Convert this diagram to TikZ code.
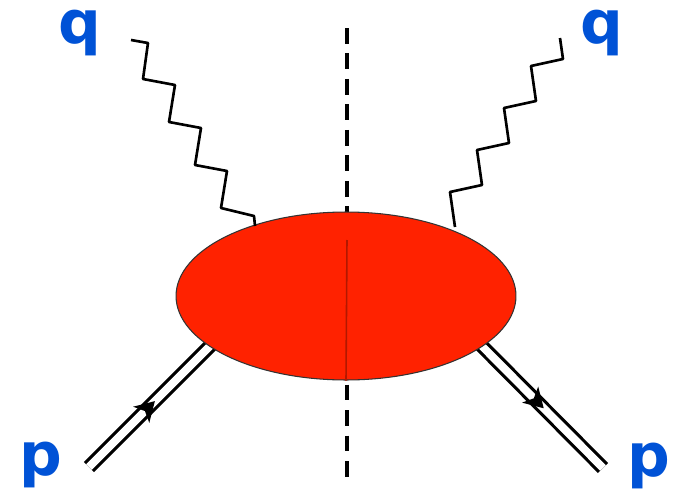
\documentclass[tikz,border=0pt]{standalone}
\usepackage{fontspec}
\setmainfont{DejaVu Sans}
\usepackage{tikz}
\usetikzlibrary{shapes.geometric,decorations.markings}
\definecolor{lblblue}{RGB}{0,82,214}
\definecolor{blobred}{RGB}{255,34,0}

\begin{document}
\begin{tikzpicture}[x=0.02cm,y=-0.02cm,
  blob/.style={ellipse,draw=black!80,line width=.6pt,fill=blobred,
    minimum width=6.8cm,minimum height=3.36cm,inner sep=0pt},
  lbl/.style={anchor=base,inner sep=0pt,text=lblblue,font=\fontsize{34}{36}\selectfont\bfseries},
  photon/.style={draw=black,line width=1.5pt,line join=round},
  proton/.style={draw=black,double=white,double distance=4.5pt,line width=1.8pt},
  midarrow/.style={decoration={markings,mark=at position #1 with
    {\fill[black] (6pt,0) -- (-5pt,6.5pt) -- (-2pt,0) -- (-5pt,-6.5pt) -- cycle;}},
    postaction={decorate}}]
  \useasboundingbox (0,0) rectangle (673,497);
  % cut line
  \coordinate (cuttop) at (347,28);
  \coordinate (cutbot) at (347,482);
  \draw[line width=2pt,dash pattern=on 9pt off 5.5pt] (cuttop) -- (cutbot);
  % proton legs
  \coordinate (pLend) at (89,467);
  \coordinate (pLin) at (225,331);
  \coordinate (pRin) at (467,331);
  \coordinate (pRend) at (603,468);
  \draw[proton] (pLend) -- (pLin);
  \draw[proton] (pRin) -- (pRend);
  \path[midarrow=.43] (pLend) -- (pLin);
  \path[midarrow=.51] (pRin) -- (pRend);
  % blob, with the cut showing through
  \node[blob] (blob) at (346,296) {};
  \coordinate (cutin) at (347,240);
  \draw[blobred!70!black,line width=.9pt] (cutin) -- (blob.south);
  % photon legs
  \coordinate (gL) at (131,40);
  \coordinate (gR) at (560,38);
  \draw[photon] (gL) -- ++(17,3) -- ++(-5,36)
    \foreach \i in {1,2,3} { -- ++(32,6) -- ++(-6,37) } -- ++(33,8) -- ++(1,10);
  \draw[photon] (gR) -- ++(3,21)
    \foreach \i in {1,2,3,4} { -- ++(-32,7) -- ++(5,35) };
  % labels
  \node[lbl] (qL) at (80,43) {q};
  \node[lbl] (qR) at (602,43) {q};
  \node[lbl] (pL) at (41,475) {p};
  \node[lbl] (pR) at (649,476) {p};
\end{tikzpicture}
\end{document}
